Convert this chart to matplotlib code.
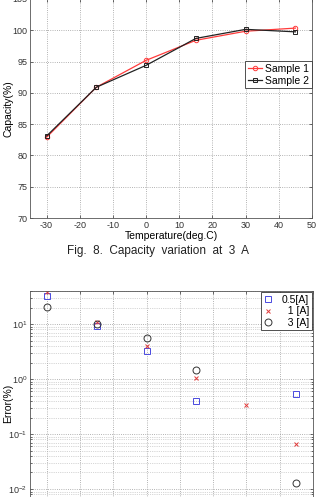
import matplotlib.pyplot as plt
import numpy as np
from matplotlib.ticker import LogLocator, NullFormatter

plt.rcParams["font.family"] = ["Liberation Sans", "DejaVu Sans"]
plt.rcParams["axes.unicode_minus"] = False

# capacity vs temperature (Fig. 8)
temps = [-30, -15, 0, 15, 30, 45]
sample1 = [82.9, 90.9, 95.2, 98.4, 99.85, 100.35]
sample2 = [83.1, 90.9, 94.4, 98.7, 100.15, 99.75]

# error vs temperature (log chart)
err_05 = [32, 9.2, 3.3, 0.40, np.nan, 0.54]
err_1 = [38, 10.7, 4.0, 1.04, 0.34, 0.065]
err_3 = [20.5, 10.0, 5.5, 1.45, np.nan, 0.013]

x_ticks = [-30, -20, -10, 0, 10, 20, 30, 40, 50]
cap_ticks = [70, 75, 80, 85, 90, 95, 100, 105]

W, H = 316, 497
fig = plt.figure(figsize=(W / 100, H / 100), dpi=100)


def frac(x0, y0, x1, y1):
    return [x0 / W, 1 - y1 / H, (x1 - x0) / W, (y1 - y0) / H]


def style(ax):
    ax.grid(True, which="major", linestyle=":", color="#9a9a9a", linewidth=0.6)
    ax.tick_params(direction="in", top=True, right=True, labelsize=6.5,
                   length=2.5, width=0.5, colors="#333333", pad=2)
    for s in ax.spines.values():
        s.set_linewidth(0.6)
        s.set_color("#555555")


# top chart
ax1 = fig.add_axes(frac(30, -1, 312, 218))
ax1.plot(temps, sample1, "-o", color="#ff3b3b", lw=0.9, ms=3.2,
         mfc="none", mew=0.7, label="Sample 1")
ax1.plot(temps, sample2, "-s", color="#222222", lw=0.9, ms=3.0,
         mfc="none", mew=0.7, label="Sample 2")
ax1.set_xlim(-35, 50)
ax1.set_ylim(70, 105)
ax1.set_xticks(x_ticks)
ax1.set_yticks(cap_ticks)
style(ax1)
ax1.set_xlabel("Temperature(deg.C)", fontsize=7.5, labelpad=1)
ax1.set_ylabel("Capacity(%)", fontsize=7.5)
ax1.yaxis.set_label_coords(-0.06, 0.5)
leg1 = ax1.legend(loc="upper right", bbox_to_anchor=(1.0, 0.715), fontsize=7.5,
                  handlelength=1.4, handletextpad=0.3, borderpad=0.25,
                  labelspacing=0.15, fancybox=False, edgecolor="#333333",
                  framealpha=1, borderaxespad=0)
leg1.get_frame().set_linewidth(0.6)

fig.text(0.5, 1 - 251 / H, "Fig.  8.  Capacity  variation  at  3  A",
         ha="center", va="center", fontsize=8.5, color="#222222")

# bottom chart
ax2 = fig.add_axes(frac(30, 291, 313, 544))
ax2.set_yscale("log")
ax2.plot(temps, err_05, "s", color="#4a4adf", ms=4.5, mfc="none", mew=0.7,
         label="0.5[A]")
ax2.plot(temps, err_1, "x", color="#e03a3a", ms=3.5, mew=0.7, label="  1 [A]")
ax2.plot(temps, err_3, "o", color="#333333", ms=5, mfc="none", mew=0.7,
         label="  3 [A]")
ax2.set_xlim(-35, 50)
ax2.set_ylim(1e-3, 40)
ax2.set_xticks(x_ticks)
ax2.yaxis.set_major_locator(LogLocator(base=10, numticks=10))
ax2.yaxis.set_minor_locator(LogLocator(base=10, subs=np.arange(2, 10), numticks=20))
ax2.yaxis.set_minor_formatter(NullFormatter())
style(ax2)
ax2.tick_params(labelbottom=False)
ax2.grid(True, which="minor", axis="y", linestyle=":", color="#b0b0b0",
         linewidth=0.5)
ax2.tick_params(which="minor", direction="in", right=True, length=1.5,
                width=0.4)
ax2.set_ylabel("Error(%)", fontsize=7.5)
ax2.yaxis.set_label_coords(-0.06, (544 - 403) / 253)
leg2 = ax2.legend(loc="upper right", fontsize=7.5, handlelength=1.0,
                  handletextpad=0.8, borderpad=0.25, labelspacing=0.15,
                  fancybox=False, edgecolor="#333333", framealpha=1,
                  borderaxespad=0.1)
leg2.get_frame().set_linewidth(0.6)

fig.savefig("out.png", dpi=100)
